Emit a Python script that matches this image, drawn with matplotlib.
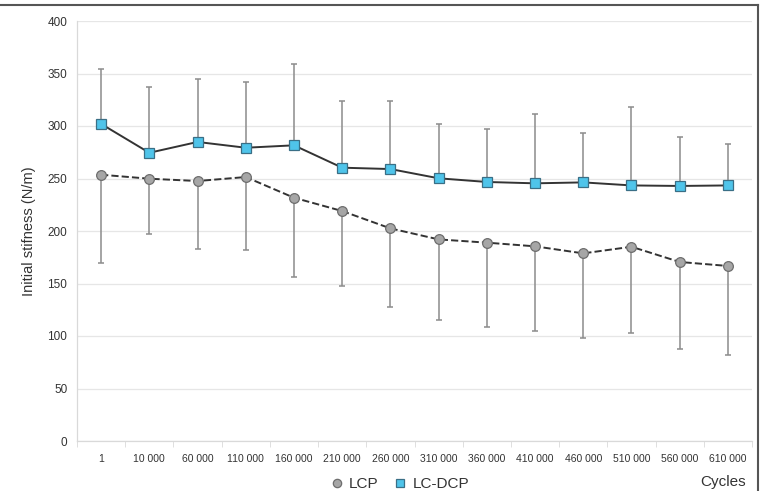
import numpy as np
import matplotlib
matplotlib.use("Agg")
from matplotlib import pyplot as plt
from matplotlib.lines import Line2D

# Data
cycles = ["1", "10 000", "60 000", "110 000", "160 000", "210 000", "260 000",
          "310 000", "360 000", "410 000", "460 000", "510 000", "560 000", "610 000"]

lcdcp = [302, 274.5, 284.8, 279.3, 281.6, 260.3, 259, 250.2, 246.7, 245.4, 246.3, 243.4, 242.9, 243.4]
lcdcp_top = [354, 336.8, 345, 342, 358.7, 323.5, 323.5, 302, 296.9, 311, 293, 318.4, 289.5, 283]

lcp = [253.6, 249.8, 247.6, 251.4, 231.7, 219, 202.5, 192, 188.9, 185.4, 178.7, 185, 170.5, 166.7]
lcp_bottom = [169.5, 197, 183, 182, 156.5, 147.6, 127.3, 115, 108.9, 105, 98.4, 102.9, 87.3, 81.9]

x = np.arange(len(cycles))
lcdcp = np.array(lcdcp)
lcp = np.array(lcp)
up_err = np.array(lcdcp_top) - lcdcp
down_err = lcp - np.array(lcp_bottom)

plt.rcParams['font.family'] = ['Liberation Sans', 'DejaVu Sans']

fig = plt.figure(figsize=(7.6, 4.91), dpi=100)
ax = fig.add_axes([77 / 760, 1 - 441 / 491, 675 / 760, 420 / 491])

err_col = "#8c8c8c"
# error bars (one-sided)
eb1 = ax.errorbar(x, lcdcp, yerr=[np.zeros_like(up_err), up_err], fmt="none",
                  ecolor=err_col, elinewidth=1.1, capsize=2.5, capthick=1.1, zorder=2)
eb2 = ax.errorbar(x, lcp, yerr=[down_err, np.zeros_like(down_err)], fmt="none",
                  ecolor=err_col, elinewidth=1.1, capsize=2.5, capthick=1.1, zorder=2)
for eb in (eb1, eb2):
    for cap in eb[1]:
        cap.set_color("#555555")

ax.plot(x, lcp, linestyle="--", color="#333333", linewidth=1.4, marker="o",
        markersize=7, markerfacecolor="#a6a6a6", markeredgecolor="#6e6e6e",
        markeredgewidth=0.9, zorder=3)
ax.plot(x, lcdcp, linestyle="-", color="#333333", linewidth=1.4, marker="s",
        markersize=7, markerfacecolor="#4fc4ea", markeredgecolor="#3a6f86",
        markeredgewidth=0.9, zorder=4)

ax.set_xlim(-0.5, len(cycles) - 0.5)
ax.set_ylim(0, 400)
ax.set_yticks(np.arange(0, 401, 50))
ax.set_xticks(x)
ax.set_xticklabels(cycles)
ax.set_xticks(np.arange(-0.5, len(cycles), 1), minor=True)
ax.tick_params(axis="x", which="major", length=0, labelsize=7.5, labelcolor="#333333", pad=9)
ax.tick_params(axis="x", which="minor", length=4, color="#d9d9d9")
ax.tick_params(axis="y", length=0, labelsize=8.5, labelcolor="#333333", pad=7)

ax.grid(axis="y", color="#e6e6e6", linewidth=0.9)
ax.set_axisbelow(True)
for s in ("top", "right"):
    ax.spines[s].set_visible(False)
for s in ("left", "bottom"):
    ax.spines[s].set_color("#d9d9d9")
    ax.spines[s].set_linewidth(0.9)

ax.set_ylabel("Initial stifness (N/m)", fontsize=10.5, color="#333333", labelpad=8)

handles = [
    Line2D([], [], linestyle="none", marker="o", markersize=6, markerfacecolor="#a6a6a6",
           markeredgecolor="#6e6e6e", markeredgewidth=0.9),
    Line2D([], [], linestyle="none", marker="s", markersize=6, markerfacecolor="#4fc4ea",
           markeredgecolor="#3a6f86", markeredgewidth=0.9),
]
fig.legend(handles, ["LCP", "LC-DCP"], loc="center", bbox_to_anchor=(400 / 760, 1 - 484 / 491),
           ncol=2, frameon=False, fontsize=11, handlelength=0.8, handletextpad=0.4,
           columnspacing=1.0, labelcolor="#333333", borderpad=0.1)
fig.text(746 / 760, 1 - 482 / 491, "Cycles", ha="right", va="center", fontsize=11, color="#333333")

# frame around the figure
fig.add_artist(Line2D([0, 758 / 760], [1 - 5 / 491, 1 - 5 / 491], color="#555555", linewidth=1.5))
fig.add_artist(Line2D([758 / 760, 758 / 760], [1 - 5 / 491, 0], color="#555555", linewidth=1.5))

fig.savefig("out.png", dpi=100)
